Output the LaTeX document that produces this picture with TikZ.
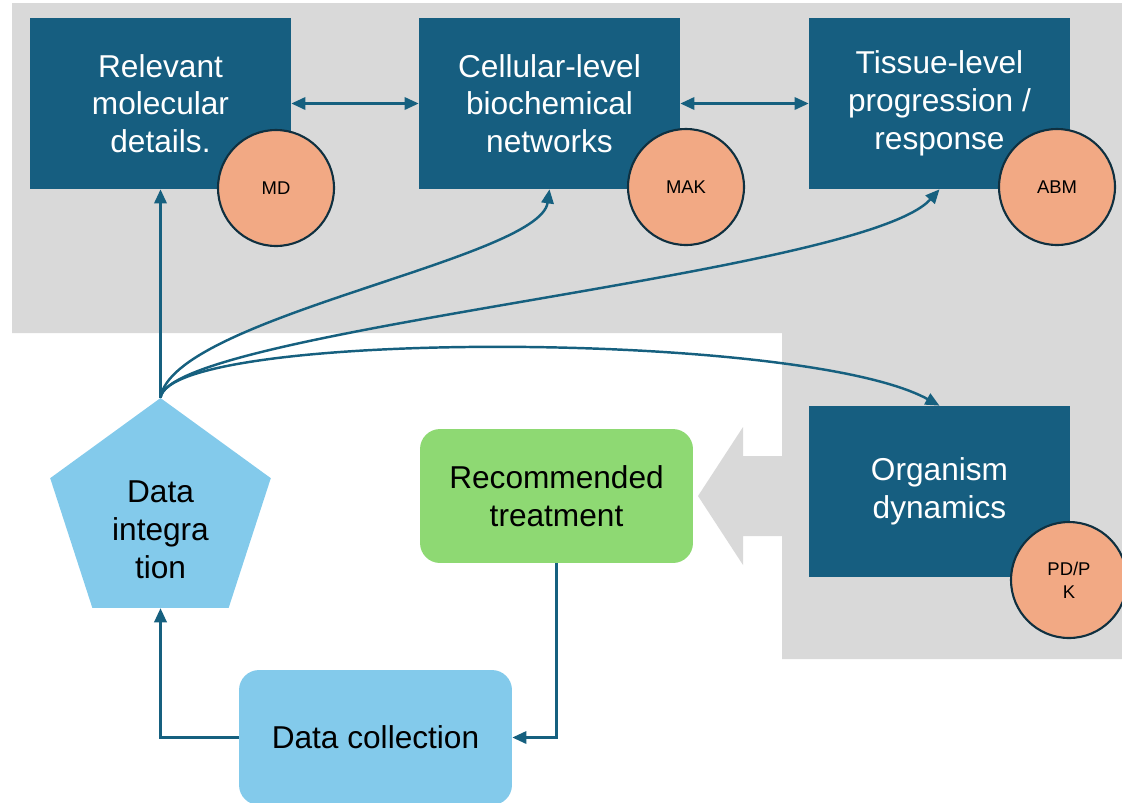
\documentclass[tikz,border=0pt]{standalone}
\usepackage{fontspec}
\setmainfont{Liberation Sans}
\usetikzlibrary{shapes.geometric,arrows.meta}

\definecolor{boxblue}{HTML}{165E80}
\definecolor{linkblue}{HTML}{16607F}
\definecolor{bggray}{HTML}{D9D9D9}
\definecolor{salmon}{HTML}{F2A984}
\definecolor{darkrim}{HTML}{0F3040}
\definecolor{skyfill}{HTML}{83CAEB}
\definecolor{leafgreen}{HTML}{8ED973}

\begin{document}
\begin{tikzpicture}[
  x=0.02cm, y=-0.02cm,
  >={Triangle[length=8pt,width=7pt]},
  model/.style={rectangle, fill=boxblue, text=white, minimum width=5.22cm,
    minimum height=3.42cm, inner sep=0pt, align=center,
    font=\fontsize{18}{21.5}\selectfont},
  tag/.style={circle, fill=salmon, draw=darkrim, line width=1.2pt,
    minimum size=2.32cm, inner sep=0pt, align=center,
    font=\fontsize{10.5}{13}\selectfont},
  action/.style={rectangle, rounded corners=0.4cm, minimum width=5.46cm,
    minimum height=2.68cm, inner sep=0pt, align=center,
    font=\fontsize{18}{21.5}\selectfont},
  link/.style={draw=linkblue, line width=1.4pt},
]
\useasboundingbox (0,0) rectangle (1122,802);

% shaded backdrop behind the model scales
\fill[bggray] (12,3) -- (1122,3) -- (1122,659) -- (782,659) -- (782,333)
  -- (12,333) -- cycle;
% broad arrow feeding the treatment box
\fill[bggray] (782,456) -- (743,456) -- (743,427) -- (698,496) -- (743,565)
  -- (743,536) -- (782,536) -- cycle;

% model scales
\node[model] (mol)  at (160.5,103.5) {Relevant\\molecular\\details.};
\node[model] (cell) at (549.5,103.5) {Cellular-level\\biochemical\\networks};
\node[model] (tis)  at (939.5,103.5) {Tissue-level\\progression /\\response};
\node[model] (org)  at (939.5,491.5) {Organism\\dynamics};

% method tags
\node[tag] (md)  at (276,188)  {MD};
\node[tag] (mak) at (686,187)  {MAK};
\node[tag] (abm) at (1057,187) {ABM};
\node[tag] (pk)  at (1069,580) {PD/P\\K};

% data nodes
\node[regular polygon, regular polygon sides=5, minimum size=4.64cm,
  inner sep=0pt, fill=skyfill] (integ) at (160.5,514) {};
\node[align=center, font=\fontsize{18}{21.5}\selectfont] (integtxt)
  at (160.5,530) {Data\\integra\\tion};
\node[action, fill=leafgreen] (treat) at (556.5,496) {Recommended\\treatment};
\node[action, fill=skyfill, minimum height=2.7cm] (collect) at (375.5,737.5)
  {Data collection};

% connectors
\draw[link,<->] (mol.east) -- (cell.west);
\draw[link,<->] (cell.east) -- (tis.west);
\draw[link,->] (integ.corner 1) -- (mol.south);
\draw[link,->] (integ.corner 1) .. controls +(12,-80) and +(-10,70) .. (cell.south);
\draw[link,->] (integ.corner 1) .. controls +(10,-68) and +(-78,86) .. (tis.south);
\draw[link,->] (integ.corner 1) .. controls +(10,-68) and +(-138,-76) .. (org.north);
\draw[link,->] (collect.west) -| (integ.south);
\draw[link,->] (treat.south) |- (collect.east);
\end{tikzpicture}
\end{document}
